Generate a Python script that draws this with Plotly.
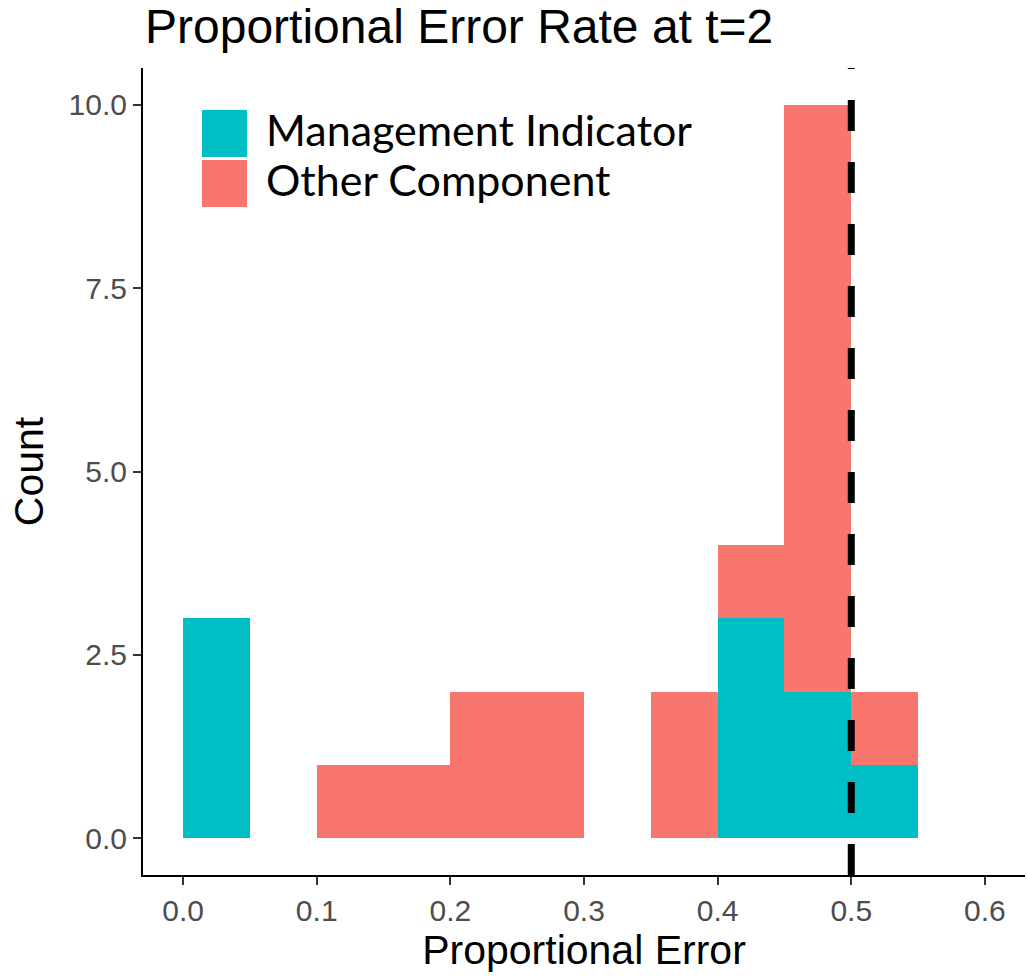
import plotly.graph_objects as go

# Histogram bins (width 0.05) and stacked counts per category
bin_left = [0.00, 0.05, 0.10, 0.15, 0.20, 0.25, 0.30, 0.35, 0.40, 0.45, 0.50, 0.55]
bin_width = 0.05
management_counts = [3, 0, 0, 0, 0, 0, 0, 0, 3, 2, 1, 0]
other_counts = [0, 0, 1, 1, 2, 2, 0, 2, 1, 8, 1, 0]
threshold = 0.5

x_ticks = [0.0, 0.1, 0.2, 0.3, 0.4, 0.5, 0.6]
y_ticks = [0.0, 2.5, 5.0, 7.5, 10.0]

CYAN = "#00BFC4"
SALMON = "#F8766D"
SANS = "Arial, Liberation Sans"
centers = [b + bin_width / 2 for b in bin_left]

fig = go.Figure()
fig.add_trace(go.Bar(x=centers, y=management_counts, width=bin_width,
                     marker=dict(color=CYAN, line=dict(width=0)),
                     name="Management Indicator", showlegend=False))
fig.add_trace(go.Bar(x=centers, y=other_counts, width=bin_width,
                     marker=dict(color=SALMON, line=dict(width=0)),
                     name="Other Component", showlegend=False))

# dashed reference line at the threshold, drawn bottom to top
fig.add_shape(type="line", xref="x", yref="paper", x0=threshold, x1=threshold,
              y0=0, y1=1, line=dict(color="black", width=7, dash="31px,31px"),
              layer="above")

# legend drawn as keys + labels inside the panel
legend_items = [("Management Indicator", CYAN, 0.9480, 0.8897),
                ("Other Component", SALMON, 0.8860, 0.8278)]
for label, color, ytop, ybot in legend_items:
    fig.add_shape(type="rect", xref="paper", yref="paper",
                  x0=0.0669, x1=0.1179, y0=ybot, y1=ytop,
                  fillcolor=color, line=dict(width=0))
    fig.add_annotation(text=label, xref="paper", yref="paper",
                       x=0.1372, y=(ytop + ybot) / 2, xanchor="left", yanchor="middle",
                       yshift=4, showarrow=False,
                       font=dict(family="Lato", size=43, color="black"))

# title
fig.add_annotation(text="Proportional Error Rate at t=2", xref="paper", yref="paper",
                   x=0.0, y=1.0, xanchor="left", yanchor="bottom", yshift=13,
                   showarrow=False,
                   font=dict(family=SANS, size=48, color="black"))

axis_common = dict(
    showgrid=False, zeroline=False, showline=True, linecolor="black", linewidth=2,
    ticks="outside", ticklen=8, tickwidth=2, tickcolor="#333333",
    tickformat=".1f",
    tickfont=dict(family=SANS, size=30, color="#4D4D4D"),
)

fig.update_layout(
    width=1028, height=976,
    margin=dict(l=143, r=3, t=68, b=101),
    paper_bgcolor="white", plot_bgcolor="white",
    barmode="stack", bargap=0,
    xaxis=dict(range=[-0.03, 0.63], tickvals=x_ticks, **axis_common,
               title=dict(text="Proportional Error", standoff=8,
                          font=dict(family=SANS, size=41, color="black"))),
    yaxis=dict(range=[-0.5, 10.5], tickvals=y_ticks, **axis_common,
               title=dict(text="Count", standoff=12,
                          font=dict(family=SANS, size=41, color="black"))),
)

fig.write_html("out.html")
